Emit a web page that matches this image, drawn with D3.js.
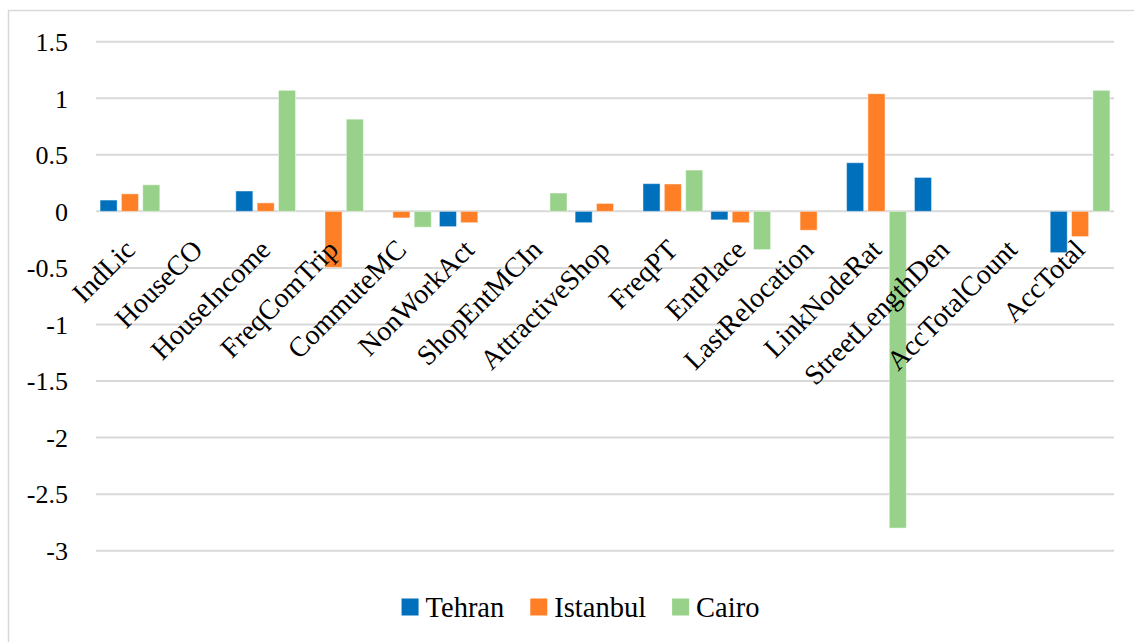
<!DOCTYPE html>
<html>
<head>
<meta charset="utf-8">
<script src="https://cdn.jsdelivr.net/npm/d3@7"></script>
<style>
  html, body { margin: 0; padding: 0; background: #fff; }
  svg { display: block; }
</style>
</head>
<body>
<svg id="chart" width="1134" height="642" font-family="Liberation Serif"></svg>
<script>
const categories = ["IndLic", "HouseCO", "HouseIncome", "FreqComTrip", "CommuteMC", "NonWorkAct",
  "ShopEntMCIn", "AttractiveShop", "FreqPT", "EntPlace", "LastRelocation", "LinkNodeRat",
  "StreetLengthDen", "AccTotalCount", "AccTotal"];
const seriesNames = ["Tehran", "Istanbul", "Cairo"];
const tehran   = [0.10, 0, 0.18, 0, 0, -0.135, 0, -0.10, 0.245, -0.075, 0, 0.43, 0.30, 0, -0.365];
const istanbul = [0.155, 0, 0.075, -0.495, -0.058, -0.10, 0, 0.07, 0.242, -0.10, -0.167, 1.04, 0, 0, -0.223];
const cairo    = [0.235, 0, 1.07, 0.815, -0.14, 0, 0.162, 0, 0.365, -0.338, 0, -2.80, 0, 0, 1.07];
const yTicks = [1.5, 1, 0.5, 0, -0.5, -1, -1.5, -2, -2.5, -3];
const colors = ["#0070BC", "#FF7F27", "#98D28A"];

const seriesValues = [tehran, istanbul, cairo];
const FONT = "Liberation Serif";

const svg = d3.select("#chart");

// outer chart frame
svg.append("rect")
  .attr("x", 8.5).attr("y", 10.5)
  .attr("width", 1140).attr("height", 650)
  .attr("fill", "none").attr("stroke", "#D9D9D9").attr("stroke-width", 1.5);

const x0 = d3.scaleBand().domain(categories).range([96, 1114]).paddingInner(0).paddingOuter(0);
const x1 = d3.scaleBand().domain(seriesNames).range([0, x0.bandwidth()]).paddingInner(0.2).paddingOuter(0.19);
const y = d3.scaleLinear().domain([-3, 1.5]).range([550.7, 41.7]);

// gridlines
svg.append("g").selectAll("line").data(yTicks).join("line")
  .attr("x1", 96).attr("x2", 1114)
  .attr("y1", d => y(d)).attr("y2", d => y(d))
  .attr("stroke", "#D9D9D9").attr("stroke-width", 2);

// y axis labels
const yAxis = d3.axisLeft(y).tickValues(yTicks).tickSize(0).tickPadding(0)
  .tickFormat(d => String(d));
const yg = svg.append("g").attr("transform", "translate(68,0)").call(yAxis);
yg.attr("font-family", FONT).attr("font-size", 26);
yg.select(".domain").remove();
yg.selectAll("text")
  .attr("font-family", FONT)
  .attr("font-size", 26)
  .attr("fill", "#000")
  .attr("dy", "0.34em");

// bars
const rows = [];
categories.forEach((c, i) => {
  seriesNames.forEach((s, j) => {
    rows.push({ cat: c, series: s, value: seriesValues[j][i], color: colors[j] });
  });
});
svg.append("g").selectAll("rect")
  .data(rows.filter(d => d.value !== 0))
  .join("rect")
  .attr("x", d => x0(d.cat) + x1(d.series))
  .attr("width", x1.bandwidth())
  .attr("y", d => Math.min(y(d.value), y(0)))
  .attr("height", d => Math.abs(y(d.value) - y(0)))
  .attr("fill", d => d.color)
  .attr("stroke", "#ffffff").attr("stroke-opacity", 0.45).attr("stroke-width", 1);

// category labels (rotated)
const xAxis = d3.axisBottom(x0).tickSize(0).tickPadding(0);
const xg = svg.append("g").attr("transform", `translate(0,${y(0)})`).call(xAxis);
xg.attr("font-family", FONT).attr("font-size", 28);
xg.select(".domain").remove();
xg.selectAll(".tick text")
  .attr("font-family", FONT)
  .attr("font-size", 28)
  .attr("fill", "#000")
  .attr("text-anchor", "end")
  .attr("y", 0).attr("dy", 0)
  .attr("transform", "translate(6.5,40) rotate(-45)");

// legend
const legend = svg.append("g").attr("font-family", FONT).attr("font-size", 28.5);
const items = legend.selectAll("g").data(seriesNames).join("g");
items.append("rect").attr("width", 17).attr("height", 17).attr("y", -8.5)
  .attr("fill", (d, i) => colors[i]);
items.append("text").text(d => d).attr("x", 24).attr("dy", "0.34em")
  .attr("font-family", FONT)
  .attr("font-size", 28.5)
  .attr("fill", "#000");
const widths = [];
items.each(function () {
  widths.push(this.querySelector("text").getComputedTextLength());
});
const gapBetween = 26;
const total = widths.reduce((a, w) => a + 24 + w, 0) + gapBetween * (widths.length - 1);
let xpos = 580.5 - total / 2;
items.attr("transform", function (d, i) {
  const t = `translate(${xpos},607)`;
  xpos += 24 + widths[i] + gapBetween;
  return t;
});
</script>
</body>
</html>
